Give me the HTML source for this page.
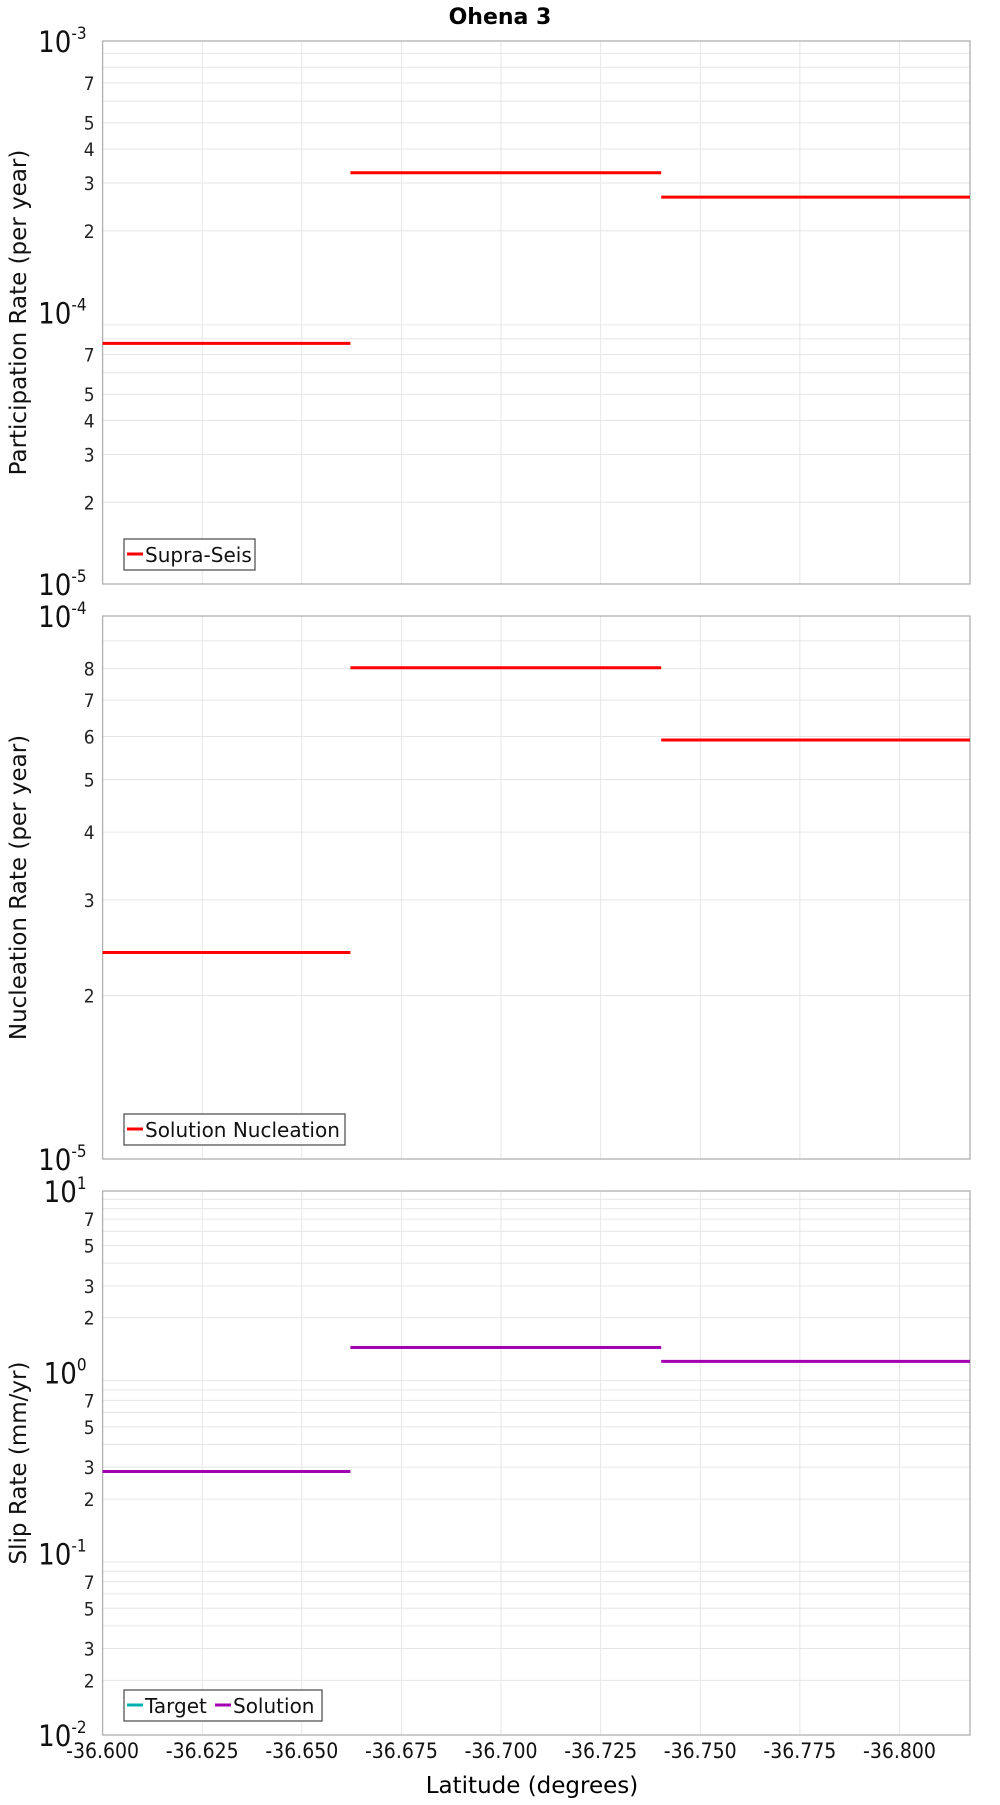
<!DOCTYPE html>
<html><head><meta charset="utf-8"><style>
body{margin:0;background:#fff;width:1000px;height:1800px;overflow:hidden}
svg{font-family:"Liberation Sans Narrow","DejaVu Sans Condensed","Liberation Sans",sans-serif}
</style></head><body>
<svg id="chart" width="1000" height="1800" xmlns="http://www.w3.org/2000/svg">
<text x="500" y="24" text-anchor="middle" font-size="22" font-weight="bold" font-family="DejaVu Sans, sans-serif">Ohena 3</text>
<text x="532" y="1793" text-anchor="middle" font-size="23" font-family="DejaVu Sans, sans-serif">Latitude (degrees)</text>
</svg>
<script>
const xTicks=[-36.600,-36.625,-36.650,-36.675,-36.700,-36.725,-36.750,-36.775,-36.800];
const segStarts=[-36.600,-36.6622,-36.7402];
const segEnds=[-36.6622,-36.7402,-36.8177];
const partValues=[7.7e-5,3.27e-4,2.66e-4];
const nuclValues=[2.40e-5,8.03e-5,5.91e-5];
const slipValues=[0.284,1.37,1.15];
const partMinorLabels=[2,3,4,5,7];
const nuclMinorLabels=[2,3,4,5,6,7,8];
const slipMinorLabels=[2,3,5,7];

const NS="http://www.w3.org/2000/svg";
const svg=document.getElementById('chart');
const L=102.6,R=970,X0=-36.600,X1=-36.8177;
function xs(v){return L+(v-X0)/(X1-X0)*(R-L);}
function mk(tag,attrs,parent){const e=document.createElementNS(NS,tag);for(const k in attrs)e.setAttribute(k,attrs[k]);(parent||svg).appendChild(e);return e;}

function panel(name,top,bot,minExp,maxExp,minorLabels,values,color,ytitle,legendItems,legendW,showX){
  const g=mk('g',{});
  
  
  const ys=v=>bot-(Math.log10(v)-minExp)/(maxExp-minExp)*(bot-top);
  for(let e=minExp;e<maxExp;e++){for(let m=1;m<=9;m++){const v=m*Math.pow(10,e);const y=ys(v);
    if(m>1){const gl=mk('line',{x1:L,x2:R,y1:y,y2:y,stroke:'#e6e6e6','stroke-width':1},g);
      }
    if(m>1&&minorLabels.includes(m)){const t=mk('text',{x:L-8,y:y+7,'text-anchor':'end','font-size':19,fill:'#222'},g);
      t.textContent=m;}
  }}
  for(let e=minExp;e<=maxExp;e++){const y=ys(Math.pow(10,e));
    const t=mk('text',{x:L-16,y:y+11,'text-anchor':'end','font-size':29,fill:'#111'},g);
    
    t.appendChild(document.createTextNode('10'));
    const s=mk('tspan',{dy:-13,'font-size':17},t);s.textContent=String(e);}
  xTicks.forEach(v=>{const x=xs(v);if(v!==X0){const gl=mk('line',{x1:x,x2:x,y1:top,y2:bot,stroke:'#e6e6e6','stroke-width':1},g);
    }
    if(showX){const t=mk('text',{x:x,y:bot+23,'text-anchor':'middle','font-size':21,fill:'#111'},g);
      t.textContent=v.toFixed(3);}});
  const fr=mk('rect',{x:L,y:top,width:R-L,height:bot-top,fill:'none',stroke:'#b0b0b0','stroke-width':1.3},g);
  
  values.forEach((v,i)=>{const ln=mk('line',{x1:xs(segStarts[i]),x2:xs(segEnds[i]),y1:ys(v),y2:ys(v),stroke:color,'stroke-width':3},g);
    });
  const yt=mk('text',{x:0,y:0,'text-anchor':'middle','font-size':23,fill:'#111','font-family':'DejaVu Sans, sans-serif',transform:`translate(26,${(top+bot)/2}) rotate(-90)`},g);
  yt.textContent=ytitle;
  const lg=mk('g',{},g);
  const lx=124,ly=bot-45;
  mk('rect',{x:lx,y:ly,width:legendW,height:31,fill:'#fff',stroke:'#555','stroke-width':1.3},lg);
  let cx=lx+3;
  legendItems.forEach(it=>{const ent=mk('g',{},lg);
    mk('line',{x1:cx,x2:cx+16,y1:ly+15,y2:ly+15,stroke:it.c,'stroke-width':3},ent);
    const t=mk('text',{x:cx+18,y:ly+23,'font-size':20,fill:'#111','font-family':'DejaVu Sans, sans-serif'},ent);t.textContent=it.t;
    cx+=18+it.w;});
}
panel('participation',41,584,-5,-3,partMinorLabels,partValues,'#ff0000','Participation Rate (per year)',[{t:'Supra-Seis',c:'#ff0000',w:110}],131,false);
panel('nucleation',616,1159,-5,-4,nuclMinorLabels,nuclValues,'#ff0000','Nucleation Rate (per year)',[{t:'Solution Nucleation',c:'#ff0000',w:195}],221,false);
panel('slip-rate',1191,1735,-2,1,slipMinorLabels,slipValues,'#a000b0','Slip Rate (mm/yr)',[{t:'Target',c:'#00b0b0',w:70},{t:'Solution',c:'#a000b0',w:100}],198,true);
</script>
</body></html>
